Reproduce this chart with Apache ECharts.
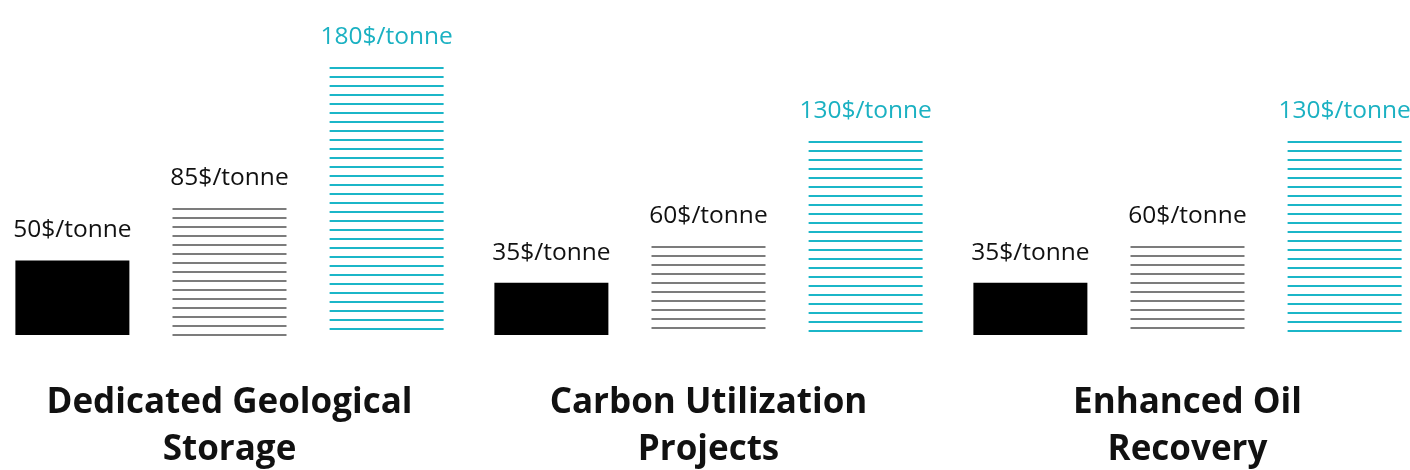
<!DOCTYPE html>
<html>
<head>
<meta charset="utf-8">
<style>
  html, body { margin: 0; padding: 0; background: #ffffff; overflow: hidden; width: 1410px; height: 470px; }
  #chart { position: absolute; left: -10px; top: 0; width: 1437px; height: 470px; }
</style>
<script src="https://cdn.jsdelivr.net/npm/echarts@6/dist/echarts.min.js"></script>
</head>
<body>
<div id="chart"></div>
<script>
// Cost of CO2 per tonne, three price points for each use case
const categories = ['Dedicated Geological\nStorage', 'Carbon Utilization\nProjects', 'Enhanced Oil\nRecovery'];
const lowCost = [50, 35, 35];
const midCost = [85, 60, 60];
const highCost = [180, 130, 130];
const unitSuffix = '$/tonne';

const FONT = '"Open Sans", "Noto Sans", sans-serif';
const BAR_FRAC = 0.238;      // bar width as share of a category band
const OFFSET_FRAC = 0.328;   // distance of side bars from band centre
const STRIPE_GAP = 9;        // spacing of hatch lines, px

function toPairs(values) {
  return values.map(function (v, i) { return [i, v]; });
}

function valueLabel(cx, topY, v, color) {
  return {
    type: 'text',
    style: {
      text: v + unitSuffix,
      x: cx,
      y: topY - 30,
      align: 'center',
      verticalAlign: 'middle',
      font: '400 24.5px ' + FONT,
      fill: color
    }
  };
}

// Solid bar
function solidBar(offset, color, labelColor) {
  return function (params, api) {
    const i = api.value(0), v = api.value(1);
    const base = api.coord([i, 0]);
    const top = api.coord([i, v]);
    const band = api.size([1, 0])[0];
    const w = band * BAR_FRAC;
    const cx = base[0] + band * offset;
    return {
      type: 'group',
      children: [
        { type: 'rect', shape: { x: cx - w / 2, y: top[1], width: w, height: base[1] - top[1] },
          style: { fill: color } },
        valueLabel(cx, top[1], v, labelColor)
      ]
    };
  };
}

// Bar filled with horizontal hatch lines, first line on the bar top
function stripedBar(offset, color, labelColor) {
  return function (params, api) {
    const i = api.value(0), v = api.value(1);
    const base = api.coord([i, 0]);
    const top = api.coord([i, v]);
    const band = api.size([1, 0])[0];
    const w = band * BAR_FRAC;
    const cx = base[0] + band * offset;
    const x0 = cx - w / 2;
    const children = [];
    for (let y = Math.round(top[1]) + 1; y <= base[1] + 0.5; y += STRIPE_GAP) {
      children.push({
        type: 'line',
        shape: { x1: x0, y1: y, x2: x0 + w, y2: y },
        style: { stroke: color, lineWidth: 2 }
      });
    }
    children.push(valueLabel(cx, top[1], v, labelColor));
    return { type: 'group', children: children };
  };
}

const chart = echarts.init(document.getElementById('chart'), null, { renderer: 'canvas' });
chart.setOption({
  backgroundColor: '#ffffff',
  animation: false,
  grid: { left: 0, right: 0, top: 37, bottom: 135, containLabel: false, outerBoundsMode: 'none' },
  xAxis: {
    type: 'category',
    data: categories,
    axisLine: { show: false },
    axisTick: { show: false },
    splitLine: { show: false },
    axisLabel: {
      interval: 0,
      margin: 45,
      color: '#111111',
      fontFamily: FONT,
      fontWeight: 'bold',
      fontSize: 35,
      lineHeight: 47
    }
  },
  yAxis: { type: 'value', min: 0, max: 200, show: false, splitLine: { show: false } },
  series: [
    { type: 'custom', name: 'low', data: toPairs(lowCost), encode: { x: 0, y: 1 },
      renderItem: solidBar(-OFFSET_FRAC, '#000000', '#111111') },
    { type: 'custom', name: 'mid', data: toPairs(midCost), encode: { x: 0, y: 1 },
      renderItem: stripedBar(0, '#7c7c7c', '#111111') },
    { type: 'custom', name: 'high', data: toPairs(highCost), encode: { x: 0, y: 1 },
      renderItem: stripedBar(OFFSET_FRAC, '#1bb6c8', '#1bb1c2') }
  ]
});
</script>
</body>
</html>
